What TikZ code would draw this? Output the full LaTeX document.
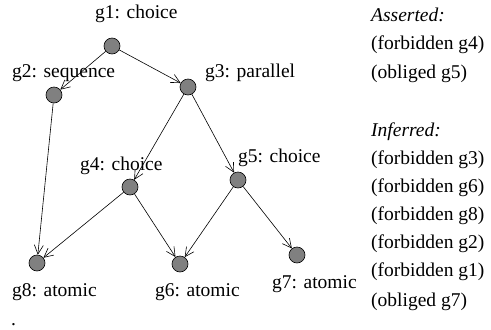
\documentclass[tikz,border=0pt]{standalone}
\usepackage{fontspec}
\setmainfont{Liberation Serif}
\usetikzlibrary{arrows.meta}
\begin{document}
\begin{tikzpicture}[x=1pt,y=-1pt,
  goal/.style={circle,draw=black,fill=gray,line width=0.6pt,minimum size=16pt,inner sep=0pt},
  lbl/.style={font=\fontsize{19.5}{22}\selectfont,inner sep=0pt},
  edge/.style={line width=0.6pt,-{Straight Barb[length=9pt,width=9pt]}},
  side/.style={font=\fontsize{19.5}{22}\selectfont,inner sep=0pt,anchor=west}]
\useasboundingbox (0,0) rectangle (491,330);
% goal tree
\node[goal] (g1) at (112,46) {};
\node[goal] (g2) at (54,95) {};
\node[goal] (g3) at (188,87) {};
\node[goal] (g4) at (130,187) {};
\node[goal] (g5) at (238,180) {};
\node[goal] (g8) at (37,263) {};
\node[goal] (g6) at (180,264) {};
\node[goal] (g7) at (297,255) {};
% goal labels
\node[lbl,anchor=west] (l1) at (95,14) {g1: choice};
\node[lbl,anchor=west] (l2) at (12,73) {g2: sequence};
\node[lbl,anchor=west] (l3) at (205,73) {g3: parallel};
\node[lbl,anchor=west] (l4) at (80,166) {g4: choice};
\node[lbl,anchor=west] (l5) at (238,158) {g5: choice};
\node[lbl,anchor=west] (l8) at (12,292) {g8: atomic};
\node[lbl,anchor=west] (l6) at (155,292) {g6: atomic};
\node[lbl,anchor=west] (l7) at (272,284) {g7: atomic};
\node[lbl,anchor=base west] (dot) at (11,325) {.};
% refinement edges
\draw[edge] (g1) -- (g2);
\draw[edge] (g1) -- (g3);
\draw[edge] (g2) -- (g8);
\draw[edge] (g3) -- (g4);
\draw[edge] (g3) -- (g5);
\draw[edge] (g4) -- (g8);
\draw[edge] (g4) -- (g6);
\draw[edge] (g5) -- (g6);
\draw[edge] (g5) -- (g7);
% asserted and inferred facts
\node[side] (a0) at (371,15) {\itshape Asserted:};
\node[side] (a1) at (371,45) {(forbidden g4)};
\node[side] (a2) at (371,74) {(obliged g5)};
\node[side] (i0) at (371,132) {\itshape Inferred:};
\node[side] (i1) at (371,160) {(forbidden g3)};
\node[side] (i2) at (371,188) {(forbidden g6)};
\node[side] (i3) at (371,216) {(forbidden g8)};
\node[side] (i4) at (371,244) {(forbidden g2)};
\node[side] (i5) at (371,272) {(forbidden g1)};
\node[side] (i6) at (371,302) {(obliged g7)};
\end{tikzpicture}
\end{document}
